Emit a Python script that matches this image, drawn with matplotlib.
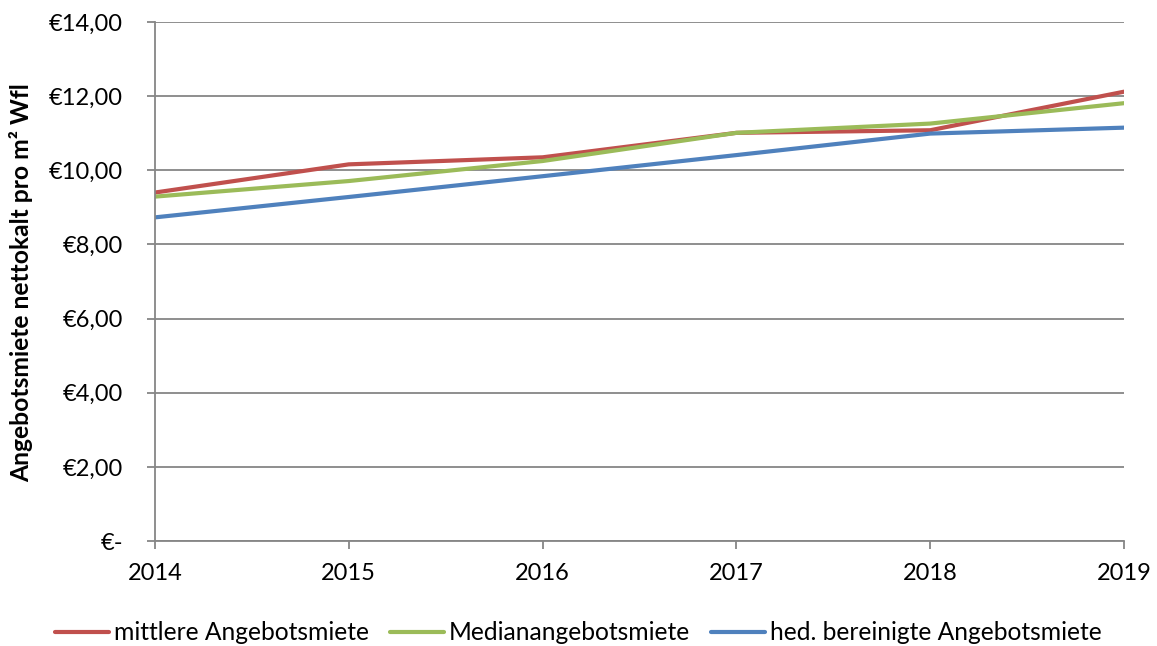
import matplotlib
matplotlib.use("Agg")
import matplotlib.pyplot as plt
from matplotlib.ticker import FuncFormatter, FixedLocator

years = [2014, 2015, 2016, 2017, 2018, 2019]
mittlere = [9.40, 10.16, 10.35, 11.01, 11.08, 12.12]
median = [9.29, 9.71, 10.25, 11.01, 11.26, 11.81]
hedonisch = [8.73, 9.28, 9.84, 10.41, 10.99, 11.15]
labels = ["mittlere Angebotsmiete", "Medianangebotsmiete", "hed. bereinigte Angebotsmiete"]
colors = ["#C0504D", "#9BBB59", "#4F81BD"]
yticks = [0, 2, 4, 6, 8, 10, 12, 14]
ylabel = "Angebotsmiete nettokalt pro m² Wfl"

plt.rcParams["font.family"] = ["Lato", "DejaVu Sans"]
FS = 17.7
TFS = 17

fig = plt.figure(figsize=(11.57, 6.46), dpi=100)
ax = fig.add_axes([155/1157, 1-541/646, (1124-155)/1157, (541-22)/646])

for vals, lab, c in zip([mittlere, median, hedonisch], labels, colors):
    ax.plot(years, vals, color=c, lw=3, label=lab, solid_capstyle="round")

ax.set_xlim(years[0], years[-1])
ax.set_ylim(0, 14)
ax.yaxis.set_major_locator(FixedLocator(yticks))
ax.set_xticks(years)

def fmt(v, pos):
    if v == 0:
        return "€-"
    return "€" + f"{v:.2f}".replace(".", ",")
ax.yaxis.set_major_formatter(FuncFormatter(fmt))

gray = "#868686"
ax.grid(axis="y", color=gray, lw=1.3)
ax.set_axisbelow(True)
for s in ["top", "right"]:
    ax.spines[s].set_visible(False)
for s in ["left", "bottom"]:
    ax.spines[s].set_color(gray)
    ax.spines[s].set_linewidth(1.3)
ax.tick_params(axis="both", colors=gray, length=6, width=1.3, labelcolor="black", labelsize=TFS)
ax.tick_params(axis="y", pad=17)
ax.tick_params(axis="x", pad=10)

ax.set_ylabel(ylabel, fontsize=FS, fontweight="bold")
ax.yaxis.set_label_coords(-(155-33)/969, (541-283)/519)

leg = fig.legend(loc="center", bbox_to_anchor=(0.5, 1-633/646), ncol=3, frameon=False,
                 fontsize=FS, handlelength=2.2, handletextpad=0.2, columnspacing=0.85,
                 borderaxespad=0)

fig.savefig("out.png", dpi=100)
